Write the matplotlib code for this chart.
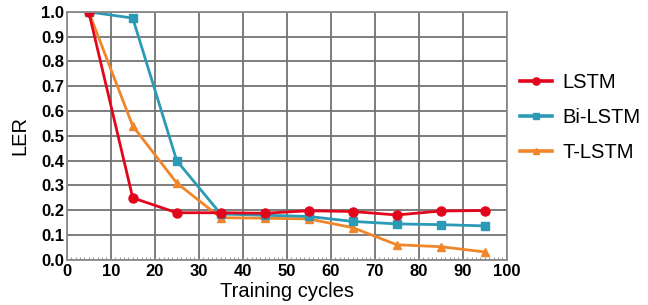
import numpy as np
from matplotlib import pyplot as plt
from matplotlib.ticker import MultipleLocator

plt.rcParams['font.family'] = ['Liberation Sans', 'DejaVu Sans']

cycles = [5, 15, 25, 35, 45, 55, 65, 75, 85, 95]
lstm = [1.0, 0.25, 0.19, 0.19, 0.188, 0.198, 0.195, 0.181, 0.197, 0.199]
bilstm = [1.0, 0.975, 0.40, 0.185, 0.18, 0.175, 0.155, 0.145, 0.142, 0.137]
tlstm = [1.0, 0.54, 0.31, 0.17, 0.168, 0.165, 0.13, 0.061, 0.053, 0.032]

series = [
    ("LSTM", lstm, '#e2061c', 'o', 6.5),
    ("Bi-LSTM", bilstm, '#2b9ab6', 's', 6),
    ("T-LSTM", tlstm, '#f0862a', '^', 6),
]

fig = plt.figure(figsize=(6.48, 3.05), dpi=100)
ax = fig.add_axes([0.103, 0.148, 0.679, 0.813])

for name, vals, col, mk, ms in series[::-1]:
    ax.plot(cycles, vals, color=col, marker=mk, markersize=ms,
            linewidth=2, label=name)

ax.set_xlim(0, 100)
ax.set_ylim(0, 1.0)
ax.xaxis.set_major_locator(MultipleLocator(10))
ax.xaxis.set_minor_locator(MultipleLocator(1))
ax.yaxis.set_major_locator(MultipleLocator(0.1))
ax.grid(True, color='#737373', linewidth=1.3)
ax.set_axisbelow(True)
for s in ax.spines.values():
    s.set_color('#8a8a8a')
    s.set_linewidth(1.3)

ax.tick_params(axis='both', which='major', length=0, labelsize=12)
ax.tick_params(axis='x', which='major', pad=3)
ax.tick_params(axis='y', which='major', pad=2)
ax.tick_params(axis='x', which='minor', length=2.5, direction='in',
               color='#9a9a9a', width=0.8, top=False)
for lab in ax.get_xticklabels() + ax.get_yticklabels():
    lab.set_fontweight('bold')
ax.yaxis.set_major_formatter(plt.FuncFormatter(lambda v, p: f'{v:.1f}'))

ax.set_xlabel('Training cycles', fontsize=14.5, labelpad=2)
ax.set_ylabel('LER', fontsize=14.5, labelpad=8)

handles, labels = ax.get_legend_handles_labels()
leg = ax.legend(handles[::-1], labels[::-1], loc='center left',
                bbox_to_anchor=(1.03, 0.573), frameon=False, fontsize=14.5,
                borderpad=0, borderaxespad=0,
                handlelength=1.6, handletextpad=0.5, labelspacing=0.8,
                markerscale=0.8)
for h in leg.get_lines():
    h.set_linewidth(2.6)

fig.savefig('out.png', dpi=100)
